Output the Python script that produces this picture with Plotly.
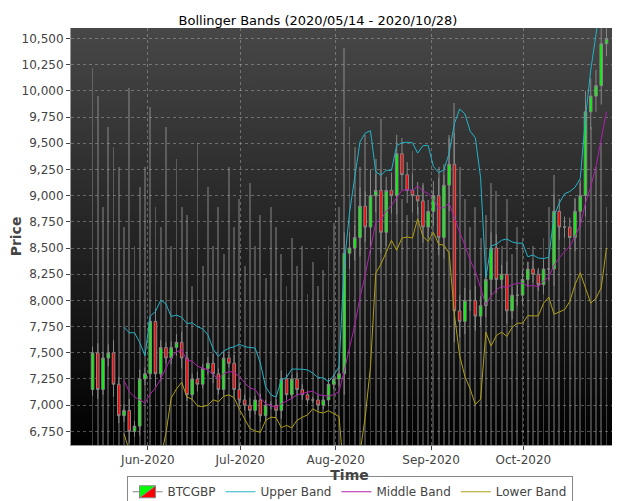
import base64
import pandas as pd
import plotly.graph_objects as go

closes = [7500, 7150, 7450, 7500, 7200, 6900, 6950, 6750, 6800, 7250, 7300, 7800, 7300, 7550, 7450,
          7550, 7600, 7450, 7100, 7250, 7200, 7350, 7400, 7300, 7150, 7450, 7400, 7150, 7050, 7000,
          6950, 7050, 6900, 7000, 7000, 6950, 7250, 7100, 7250, 7150, 7100, 7050, 7050, 7000, 7050,
          7200, 7250, 7300, 8450, 8500, 8600, 8900, 8700, 9000, 9050, 8650, 9050, 9000, 9400, 9200,
          9050, 9000, 8950, 8700, 8850, 9000, 8600, 9100, 9300, 7900, 7800, 8000, 8000, 7850, 7950,
          8200, 8500, 8200, 8250, 7900, 8050, 8050, 8200, 8300, 8250, 8150, 8300, 8300, 8850, 8700,
          8700, 8600, 8850, 9000, 9800, 9950, 10050, 10450, 10500]
first_open = 7150
wick = [60, 90, 50, 80, 120, 70, 60, 110, 50, 90, 60, 40, 120, 70, 50, 60, 80, 100, 60, 50,
        70, 40, 60, 90, 50, 60, 40, 80, 60, 50, 70, 40, 60, 50, 40, 60, 80, 50, 40, 60,
        50, 40, 30, 50, 40, 60, 50, 70, 200, 150, 120, 180, 140, 250, 160, 200, 130, 170, 180, 150,
        120, 160, 130, 150, 110, 140, 170, 200, 250, 300, 150, 120, 100, 140, 90, 110, 150, 130, 90, 120,
        80, 100, 90, 70, 80, 60, 90, 110, 160, 120, 100, 90, 130, 150, 200, 170, 150, 180, 120]
volume = [95, 88, 60, 80, 75, 70, 55, 90, 50, 65, 70, 85, 60, 55, 80, 50, 72, 60, 58, 40,
          76, 45, 65, 50, 60, 48, 70, 55, 62, 45, 66, 50, 58, 42, 60, 55, 48, 40, 52, 45,
          50, 38, 46, 40, 44, 50, 56, 60, 100, 80, 75, 70, 78, 68, 72, 82, 60, 65, 70, 62,
          58, 74, 60, 66, 55, 64, 70, 68, 78, 86, 70, 62, 55, 60, 52, 58, 66, 64, 50, 62,
          48, 55, 52, 46, 50, 44, 52, 60, 68, 58, 56, 50, 62, 66, 74, 80, 70, 76, 60]

dates = pd.date_range("2020-05-14", "2020-10-28", periods=len(closes))
opens = [first_open] + closes[:-1]
highs = [max(o, c) + w for o, c, w in zip(opens, closes, wick)]
lows = [min(o, c) - w for o, c, w in zip(opens, closes, wick)]

s = pd.Series(closes, index=dates)
mid = s.rolling(7).mean()
sd = s.rolling(7).std()
upper = mid + 2 * sd
lower = mid - 2 * sd

svg = ('<svg xmlns="http://www.w3.org/2000/svg" width="10" height="100" preserveAspectRatio="none">'
       '<defs><linearGradient id="g" x1="0" y1="0" x2="0" y2="1">'
       '<stop offset="0" stop-color="#474747"/><stop offset="1" stop-color="#000000"/>'
       '</linearGradient></defs><rect width="10" height="100" fill="url(#g)"/></svg>')
bg = "data:image/svg+xml;base64," + base64.b64encode(svg.encode()).decode()

fig = go.Figure()
fig.add_trace(go.Bar(x=dates, y=volume, marker_color="rgba(160,160,160,0.40)",
                     marker_line_width=0, width=86400000 * 0.6, showlegend=False,
                     hoverinfo="skip", yaxis="y"))
fig.add_trace(go.Candlestick(
    x=dates, open=opens, high=highs, low=lows, close=closes, name="BTCGBP",
    increasing=dict(fillcolor="#00ff00", line=dict(color="#888888", width=1)),
    decreasing=dict(fillcolor="#ff0000", line=dict(color="#888888", width=1)),
    whiskerwidth=0, yaxis="y2"))
fig.add_trace(go.Scatter(x=dates, y=upper, name="Upper Band", mode="lines",
                         line=dict(color="#22b3c8", width=1), yaxis="y2"))
fig.add_trace(go.Scatter(x=dates, y=mid, name="Middle Band", mode="lines",
                         line=dict(color="#b020b0", width=1), yaxis="y2"))
fig.add_trace(go.Scatter(x=dates, y=lower, name="Lower Band", mode="lines",
                         line=dict(color="#b0a010", width=1), yaxis="y2"))

grid = "rgba(200,200,200,0.4)"
fig.update_layout(
    width=620, height=501,
    title=dict(text="Bollinger Bands (2020/05/14 - 2020/10/28)", x=0.5, y=0.985,
               font=dict(size=13, color="#000")),
    font=dict(family="DejaVu Sans", size=12, color="#444"),
    paper_bgcolor="white", plot_bgcolor="black",
    images=[dict(source=bg, xref="paper", yref="paper", x=0, y=1, sizex=1, sizey=1,
                 sizing="stretch", layer="below")],
    margin=dict(l=63, r=0, t=20, b=64, autoexpand=False),
    xaxis=dict(range=[pd.Timestamp("2020-05-07"), pd.Timestamp("2020-11-04")],
               title=dict(text="<b>Time</b>", standoff=2),
               rangeslider=dict(visible=False), showgrid=True,
               gridcolor=grid, griddash="dot",
               dtick="M1", tickformat="%b-%Y", ticks="outside", ticklen=4,
               showline=True, linecolor="#999"),
    yaxis=dict(range=[0, 105], visible=False, fixedrange=True, showgrid=False),
    yaxis2=dict(overlaying="y", side="left", range=[6620, 10600],
                title=dict(text="<b>Price</b>", standoff=4), dtick=250,
                tickformat=",d", showgrid=True, gridcolor=grid,
                griddash="dot", ticks="outside", ticklen=4, showline=True, linecolor="#999"),
    legend=dict(orientation="h", x=0.5, xanchor="center", y=-0.075, yanchor="top",
                bordercolor="#888", borderwidth=1, font=dict(size=12),
                itemwidth=30, tracegroupgap=0),
    showlegend=True, bargap=0,
)
fig.write_html("out.html")
